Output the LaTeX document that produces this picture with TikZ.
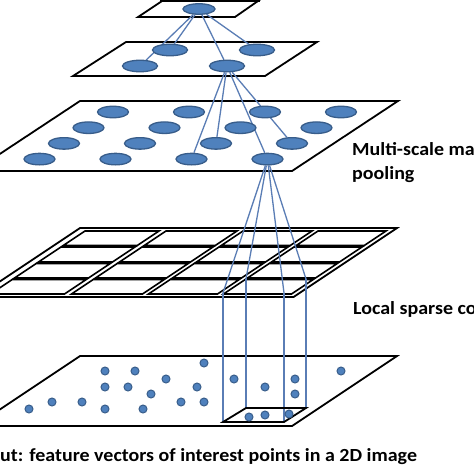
\documentclass[tikz,border=0pt]{standalone}
\usepackage{fontspec}
\setmainfont{Carlito}
\newfontfamily\lblfont[FakeStretch=1.08]{Carlito}
\usetikzlibrary{shapes.geometric}
\definecolor{ofill}{HTML}{4F81BD}
\definecolor{oline}{HTML}{385D8A}
\definecolor{link}{HTML}{5A7DB5}
\pgfdeclarelayer{bg}
\pgfdeclarelayer{mid}
\pgfsetlayers{bg,mid,main}
\begin{document}
\begin{tikzpicture}[x=1pt,y=-1pt,
  layer/.style={draw=black,fill=white,line width=1.8pt,line join=miter},
  cellbox/.style={draw=black,line width=1.6pt},
  blob/.style={ellipse,draw=oline,fill=ofill,line width=1.3pt,inner sep=0pt},
  ellT/.style={blob,minimum width=32pt,minimum height=10.5pt},
  ellM/.style={blob,minimum width=35pt,minimum height=11.5pt},
  ellS/.style={blob,minimum width=31pt,minimum height=11.5pt},
  dot/.style={circle,draw=oline,fill=ofill,line width=1pt,minimum size=8pt,inner sep=0pt},
  link/.style={draw=link,line width=1.3pt},
  lbl/.style={anchor=base west,inner sep=0pt,font=\lblfont\bfseries\fontsize{18.5pt}{22pt}\selectfont}]
\useasboundingbox (0,0) rectangle (474,474);

% ---------- planes ----------
\begin{pgfonlayer}{bg}
\fill[white] (0,0) rectangle (474,474);
\draw[layer] (162,1) -- (258,1) -- (235,17) -- (138,17) -- cycle;
\draw[black,line width=3pt] (160,0.5) -- (260,0.5);
\draw[layer] (126,42) -- (317,42) -- (265,76) -- (73,76) -- cycle;
\draw[layer] (80,101) -- (398,101) -- (292,171) -- (-26,171) -- cycle;
\draw[layer] (80,228) -- (397,228) -- (293.5,297) -- (-23.5,297) -- cycle;
\foreach \ua/\ub in {-14/60,67/138,144/213,219/287}
  \foreach \va/\vb in {231/245.5,247/262,263.5/278,279.5/294}
    \draw[cellbox] ({\ua+1.5*(297-\vb)},\vb) -- ({\ub+1.5*(297-\vb)},\vb)
      -- ({\ub+1.5*(297-\va)},\va) -- ({\ua+1.5*(297-\va)},\va) -- cycle;
\draw[layer] (80,356) -- (397,356) -- (292,426) -- (-25,426) -- cycle;
\end{pgfonlayer}

% ---------- pooled units ----------
\node[ellT] (t) at (199,9) {};
\node[ellM] (a) at (170,50) {};
\node[ellM] (b) at (257,50) {};
\node[ellM] (c) at (140,66) {};
\node[ellM] (d) at (227,66) {};
\foreach \r in {1,...,4}
  \foreach \c in {1,...,4}
    \node[ellS] (e\r\c) at ({113+76*(\c-1)-24.5*(\r-1)},{112+15.7*(\r-1)}) {};

% ---------- image points ----------
\foreach \x/\y [count=\i] in {204/363,105/371,135/371,341/371,166/379,234/379,295/379,
  105/387,128/387,197/387,265/387,151/394,295/394,52/402,82/402,181/402,204/402,
  29/409,105/409,143/409,249/417,265/415,289/414}
  \node[dot] (pt\i) at (\x,\y) {};

% ---------- receptive field ----------
\coordinate (p1) at (223,293);
\coordinate (p2) at (246,279);
\coordinate (p3) at (284,293);
\coordinate (p4) at (306,279);
\coordinate (q1) at (223,422);
\coordinate (q2) at (246,408);
\coordinate (q3) at (284,422);
\coordinate (q4) at (306,408);

\begin{pgfonlayer}{mid}
\draw[link] (t) -- (a);
\draw[link] (t) -- (c);
\draw[link] (t) -- (d);
\draw[link] (t) -- (b);
\draw[link] (d) -- (e43);
\draw[link] (d) -- (e33);
\draw[link] (d) -- (e34);
\draw[link] (d) -- (e44);
\draw[link] (e44) -- (p1);
\draw[link] (e44) -- (p2);
\draw[link] (e44) -- (p3);
\draw[link] (e44) -- (p4);
\draw[link] (p1) -- (q1);
\draw[link] (p2) -- (q2);
\draw[link] (p3) -- (q3);
\draw[link] (p4) -- (q4);
\draw[black,line width=1.8pt] (q1) -- (q3) -- (q4) -- (q2) -- cycle;
\end{pgfonlayer}

% ---------- labels ----------
\node[lbl] (l1) at (352,155) {Multi-scale ma};
\node[lbl] (l2) at (352,179) {pooling};
\node[lbl] (l3) at (353,314) {Local sparse co};
\node[lbl] (l4) at (0,461) {ut: feature vectors of interest points in a 2D image};
\end{tikzpicture}
\end{document}
